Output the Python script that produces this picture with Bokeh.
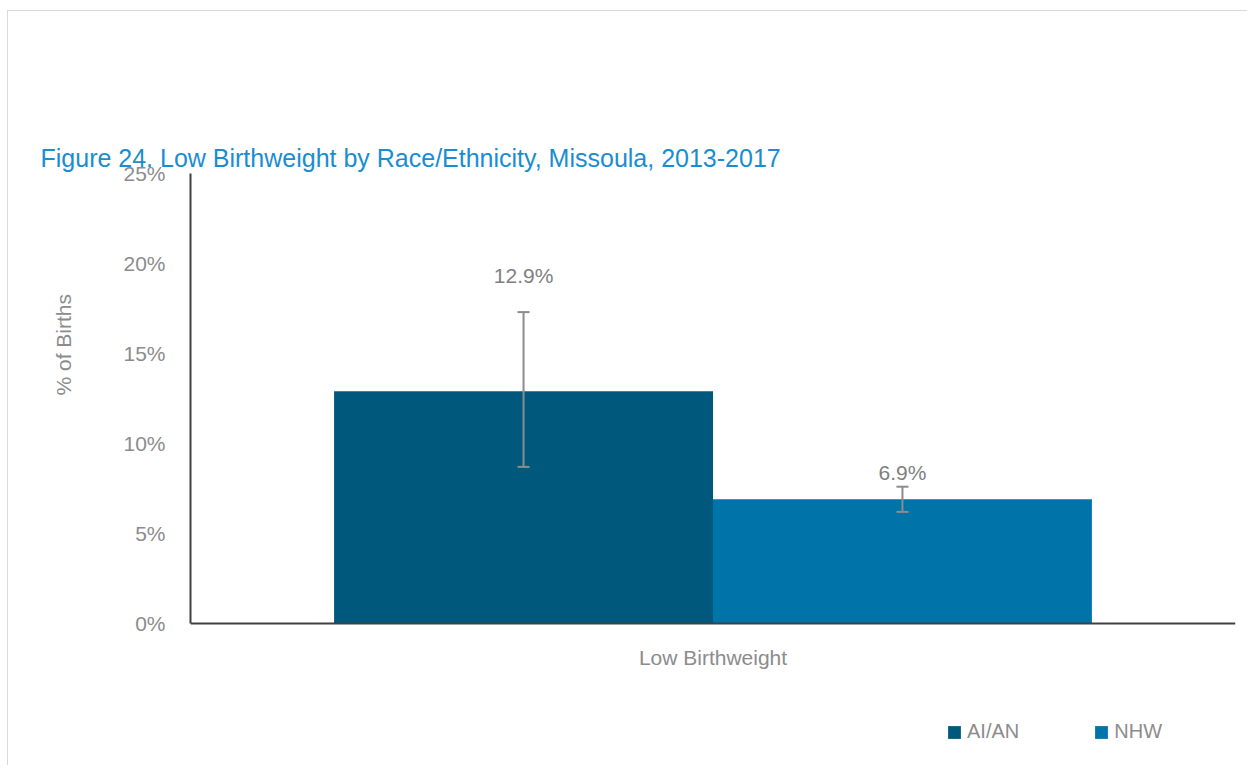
from bokeh.plotting import figure
from bokeh.models import (ColumnDataSource, FactorRange, Range1d, Whisker, Legend, LegendItem, Title,
                          FixedTicker, LinearAxis, Span)
from bokeh.transform import dodge
from bokeh.core.properties import value
from bokeh.embed import file_html
from bokeh.resources import INLINE

# data
category = ["Low Birthweight"]
groups = ["AI/AN", "NHW"]
rates = [12.9, 6.9]
lower_ci = [8.7, 6.2]
upper_ci = [17.3, 7.6]
labels = ["12.9%", "6.9%"]
y_ticks = [0, 5, 10, 15, 20, 25]

colors = ["#00587c", "#0073a8"]
offsets = [-0.1813, 0.1813]
label_px = [-25, -3]
GRAY = "#8c8c8c"
FONT = "Liberation Sans"

W, H = 1240, 755
top_px = 162
px_per_unit = 18.0
y_start = y_ticks[-1] - (H - top_px) / px_per_unit

p = figure(width=W, height=H, x_range=FactorRange(factors=category, range_padding=0),
           y_range=Range1d(y_start, y_ticks[-1]), output_backend="svg", toolbar_location=None,
           x_axis_location=None, y_axis_location=None,
           min_border_left=179, min_border_right=13, min_border_top=top_px, min_border_bottom=0)
p.styles = {"margin-left": "7px", "margin-top": "10px",
            "border-left": "1px solid #d9d9d9", "border-top": "1px solid #d9d9d9"}
p.outline_line_color = None
p.grid.visible = False

# y axis (line + tick labels)
yax = LinearAxis(ticker=FixedTicker(ticks=y_ticks), bounds=(y_ticks[0], y_ticks[-1]),
                 major_label_overrides={t: f"{t}%" for t in y_ticks})
yax.axis_line_color = "#404040"
yax.axis_line_width = 2
yax.major_tick_line_color = None
yax.minor_tick_line_color = None
yax.major_tick_out = 0
yax.major_label_standoff = 25
yax.major_label_text_font = FONT
yax.major_label_text_font_size = "21px"
yax.major_label_text_color = GRAY
p.add_layout(yax, "left")

# y axis title
ytitle = Title(text="% of Births", text_font=FONT, text_font_style="normal", text_font_size="21px",
               text_color=GRAY, align="left", vertical_align="top", offset=371, standoff=87)
p.add_layout(ytitle, "left")

# x axis line
p.add_layout(Span(location=y_ticks[0], dimension="width", line_color="#404040", line_width=2))

renderers = []
for i, g in enumerate(groups):
    view_src = ColumnDataSource(dict(cat=[category[0]], rate=[rates[i]], lo=[lower_ci[i]], hi=[upper_ci[i]],
                                     lab=[labels[i]], lpx=[label_px[i]]))
    r = p.vbar(x=dodge("cat", offsets[i], range=p.x_range), top="rate", bottom=0, width=0.3626,
               source=view_src, fill_color=colors[i], line_color=None)
    renderers.append(r)
    w = Whisker(base=dodge("cat", offsets[i], range=p.x_range), upper="hi", lower="lo", source=view_src,
                line_color=GRAY, line_width=2, level="overlay")
    for h in (w.upper_head, w.lower_head):
        h.size = 12
        h.line_color = GRAY
        h.line_width = 2
    p.add_layout(w)
    p.text(x=dodge("cat", offsets[i], range=p.x_range), y="hi", text="lab", source=view_src,
           y_offset="lpx", text_align="center", text_baseline="bottom",
           text_font=value(FONT), text_font_size="21px", text_color="#7f7f7f")

# category label under the x axis
p.text(x=category, y=[y_ticks[0]] * len(category), text=category, y_offset=34,
       text_align="center", text_baseline="middle", text_font=value(FONT),
       text_font_size="21px", text_color=GRAY)

# spacer between frame and chart title (nearest the frame), then the title
spacer = Title(text="\u00a0", text_font=FONT, text_font_size="25px", text_alpha=0, standoff=74)
p.add_layout(spacer, "above")
title = Title(text="Figure 24. Low Birthweight by Race/Ethnicity, Missoula, 2013-2017",
              text_font=FONT, text_font_size="25px", text_color="#1a8dd2",
              text_font_style="normal", align="left", vertical_align="top", offset=-150, standoff=0)
p.add_layout(title, "above")

legend = Legend(items=[LegendItem(label=g, renderers=[renderers[i]]) for i, g in enumerate(groups)],
                orientation="horizontal", location=(756, 23), glyph_width=16, glyph_height=16,
                label_standoff=5, spacing=74, padding=0, margin=0,
                border_line_color=None, background_fill_alpha=0, label_text_font=FONT,
                label_text_font_size="20px", label_text_color=GRAY)
p.add_layout(legend, "center")

open("out.html", "w").write(file_html(p, INLINE))
